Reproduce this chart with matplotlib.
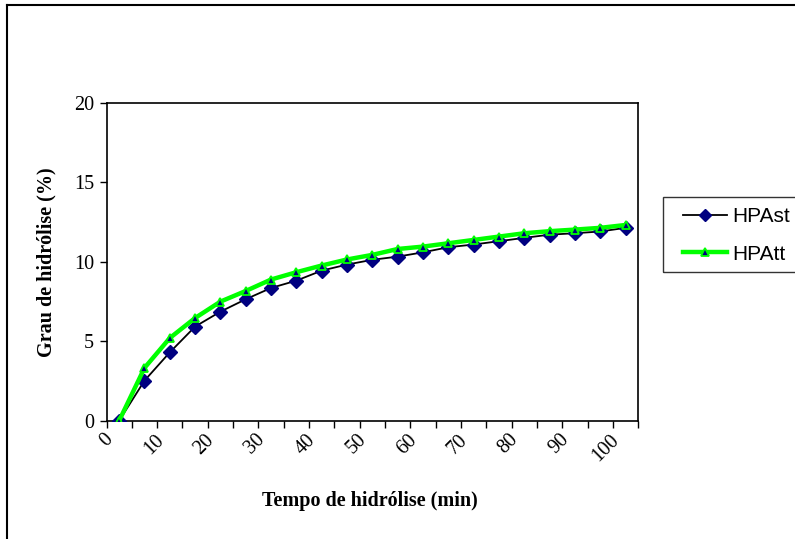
import matplotlib
matplotlib.use("Agg")
import matplotlib.pyplot as plt
from matplotlib.lines import Line2D
from matplotlib.patches import Rectangle
import numpy as np

times = [0, 5, 10, 15, 20, 25, 30, 35, 40, 45, 50, 55, 60, 65, 70, 75, 80, 85, 90, 95, 100]
hpast = [0.0, 2.52, 4.30, 5.92, 6.86, 7.64, 8.35, 8.81, 9.44, 9.82, 10.12, 10.32, 10.59, 10.91,
         11.08, 11.29, 11.50, 11.70, 11.79, 11.90, 12.13]
hpatt = [0.0, 3.32, 5.20, 6.46, 7.49, 8.16, 8.88, 9.34, 9.76, 10.14, 10.43, 10.80, 10.95, 11.16,
         11.37, 11.58, 11.79, 11.92, 12.02, 12.13, 12.31]
tick_labels = ["0", "10", "20", "30", "40", "50", "60", "70", "80", "90", "100"]
y_ticks = [0, 5, 10, 15, 20]

W, H = 795, 539
fig = plt.figure(figsize=(W / 100, H / 100), dpi=100)
serif = "Liberation Serif"
sans = "Liberation Sans"
fs = 14.5

L, R, T, B = 106.5, 638.3, 102.7, 420.7
ax = fig.add_axes([L / W, 1 - B / H, (R - L) / W, (B - T) / H])

idx = np.arange(len(times))
l1, = ax.plot(idx, hpast, color="black", lw=1.3, marker="D", ms=7,
              mfc="#000080", mec="#000080", zorder=3)
l2, = ax.plot(idx, hpatt, color="#00FF00", lw=3.2, marker="^", ms=6,
              mfc="#000080", mec="#00FF00", mew=1.3, zorder=4)

ax.set_xlim(-0.5, len(times) - 0.5)
ax.set_ylim(0, 20)
ax.set_yticks(y_ticks)
ax.set_yticklabels([str(v) for v in y_ticks], fontfamily=serif, fontsize=fs)

ax.set_xticks(np.arange(-0.5, len(times), 1.0))
ax.set_xticklabels([])
ax.tick_params(axis="x", direction="out", length=5, width=1, color="black")
ax.tick_params(axis="y", direction="out", length=5, width=1, color="black", pad=4)

lab_pos = [times.index(int(t)) for t in tick_labels]
for p, t in zip(lab_pos, tick_labels):
    ax.annotate(t, xy=(p, 0), xycoords=("data", "axes fraction"),
                xytext=(-1.5, -7), textcoords="offset points",
                rotation=45, ha="right", va="top",
                fontfamily=serif, fontsize=fs)

for s in ax.spines.values():
    s.set_linewidth(1.2)
    s.set_color("black")

fig.text(370 / W, 1 - 501 / H, "Tempo de hidrólise (min)", ha="center", va="center",
         fontfamily=serif, fontweight="bold", fontsize=fs)
fig.text(46 / W, 1 - 262 / H, "Grau de hidrólise (%)", ha="center", va="center",
         rotation=90, fontfamily=serif, fontweight="bold", fontsize=fs)

# chart-area border (left and top)
fig.add_artist(Line2D([7 / W, 7 / W], [0, 1 - 5 / H], color="black", lw=1.5,
                      transform=fig.transFigure))
fig.add_artist(Line2D([7 / W, 1], [1 - 5 / H, 1 - 5 / H], color="black", lw=1.5,
                      transform=fig.transFigure))

# legend frame
fig.add_artist(Rectangle((663 / W, 1 - 272 / H), (810 - 663) / W, (272 - 197) / H,
                         transform=fig.transFigure, fill=False, ec="#333333", lw=1))
leg = fig.legend([l1, l2], ["HPAst", "HPAtt"], loc="upper left",
                 bbox_to_anchor=(683 / W, 1 - 207 / H), borderaxespad=0, borderpad=0,
                 frameon=False, handlelength=2.1, handletextpad=0.25, labelspacing=0.9,
                 prop={"family": sans, "size": 15}, markerscale=0.9)

fig.savefig("out.png", dpi=100)
